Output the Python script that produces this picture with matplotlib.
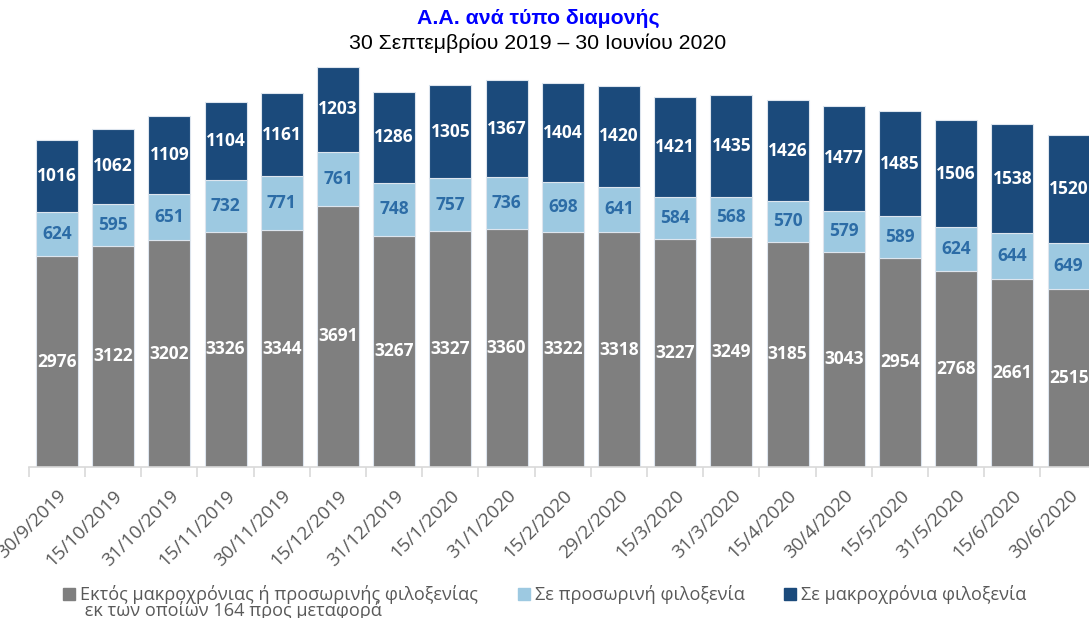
import matplotlib
matplotlib.use("Agg")
import matplotlib.pyplot as plt
from matplotlib.patches import Rectangle
import numpy as np

categories = ["30/9/2019", "15/10/2019", "31/10/2019", "15/11/2019", "30/11/2019",
              "15/12/2019", "31/12/2019", "15/1/2020", "31/1/2020", "15/2/2020",
              "29/2/2020", "15/3/2020", "31/3/2020", "15/4/2020", "30/4/2020",
              "15/5/2020", "31/5/2020", "15/6/2020", "30/6/2020"]
outside = [2976, 3122, 3202, 3326, 3344, 3691, 3267, 3327, 3360, 3322,
           3318, 3227, 3249, 3185, 3043, 2954, 2768, 2661, 2515]
temporary = [624, 595, 651, 732, 771, 761, 748, 757, 736, 698,
             641, 584, 568, 570, 579, 589, 624, 644, 649]
longterm = [1016, 1062, 1109, 1104, 1161, 1203, 1286, 1305, 1367, 1404,
            1420, 1421, 1435, 1426, 1477, 1485, 1506, 1538, 1520]

legend_labels = ["Εκτός μακροχρόνιας ή προσωρινής φιλοξενίας",
                 "Σε προσωρινή φιλοξενία",
                 "Σε μακροχρόνια φιλοξενία"]
legend_note = " εκ των οποίων 164 προς μεταφορά"
title = "Α.Α. ανά τύπο διαμονής"
subtitle = "30 Σεπτεμβρίου 2019 – 30 Ιουνίου 2020"

c_grey = "#7f7f7f"
c_light = "#9dc9e1"
c_dark = "#1b4a7b"
c_lbl_light = "#2c6ca6"
txt_grey = "#595959"
FONT = ["Open Sans", "DejaVu Sans"]

W, H = 1089, 618
fig = plt.figure(figsize=(W / 100, H / 100), dpi=100)
ax = fig.add_axes([28.9 / W, 151 / H, 1067.8 / W, 410.6 / H])

x = np.arange(len(categories))
bw = 0.75
o = np.array(outside)
t = np.array(temporary)
l = np.array(longterm)
ec = "#dde5ee"
b1 = ax.bar(x, o, bw, color=c_grey, edgecolor=ec, linewidth=0.8, zorder=2)
b2 = ax.bar(x, t, bw, bottom=o, color=c_light, edgecolor=ec, linewidth=0.8, zorder=2)
b3 = ax.bar(x, l, bw, bottom=o + t, color=c_dark, edgecolor=ec, linewidth=0.8, zorder=2)

ax.bar_label(b1, labels=[str(v) for v in outside], label_type="center", color="white",
             fontsize=12.5, fontweight="bold", family=FONT)
ax.bar_label(b2, labels=[str(v) for v in temporary], label_type="center", color=c_lbl_light,
             fontsize=12.5, fontweight="bold", family=FONT)
ax.bar_label(b3, labels=[str(v) for v in longterm], label_type="center", color="white",
             fontsize=12.5, fontweight="bold", family=FONT)

ax.set_xlim(-0.5, len(categories) - 0.5)
ax.set_ylim(0, 5800)
for s in ["top", "right", "left"]:
    ax.spines[s].set_visible(False)
ax.spines["bottom"].set_color("#d9d9d9")
ax.spines["bottom"].set_linewidth(1.2)
ax.set_yticks([])
ax.set_xticks(x)
ax.set_xticklabels(categories, rotation=45, ha="right", rotation_mode="anchor",
                   fontsize=13.5, color=txt_grey, family=FONT)
ax.tick_params(axis="x", which="major", length=0, pad=14)
ax.set_xticks(np.arange(-0.5, len(categories), 1.0), minor=True)
ax.tick_params(axis="x", which="minor", length=7, color="#d9d9d9", width=1.2)

fig.text(538 / W, 1 - 18 / H, title, ha="center", va="center", color="#0000ff",
         fontsize=15.3, fontweight="bold", family=["Liberation Sans", "DejaVu Sans"])
fig.text(538 / W, 1 - 43 / H, subtitle, ha="center", va="center", color="black",
         fontsize=15.3, family=["Liberation Sans", "DejaVu Sans"])

# legend (manual)
leg_sq = [(63, c_grey), (518, c_light), (784, c_dark)]
for (sx, col), lab in zip(leg_sq, legend_labels):
    fig.patches.append(Rectangle((sx / W, 1 - 600 / H), 12 / W, 12 / H,
                                 transform=fig.transFigure, color=col, figure=fig))
    fig.text((sx + 17) / W, 1 - 594 / H, lab, ha="left", va="center",
             color=txt_grey, fontsize=13.1, family=FONT)
fig.text(80 / W, 1 - 610 / H, legend_note, ha="left", va="center",
         color=txt_grey, fontsize=13.1, family=FONT)

fig.savefig("out.png", dpi=100)
